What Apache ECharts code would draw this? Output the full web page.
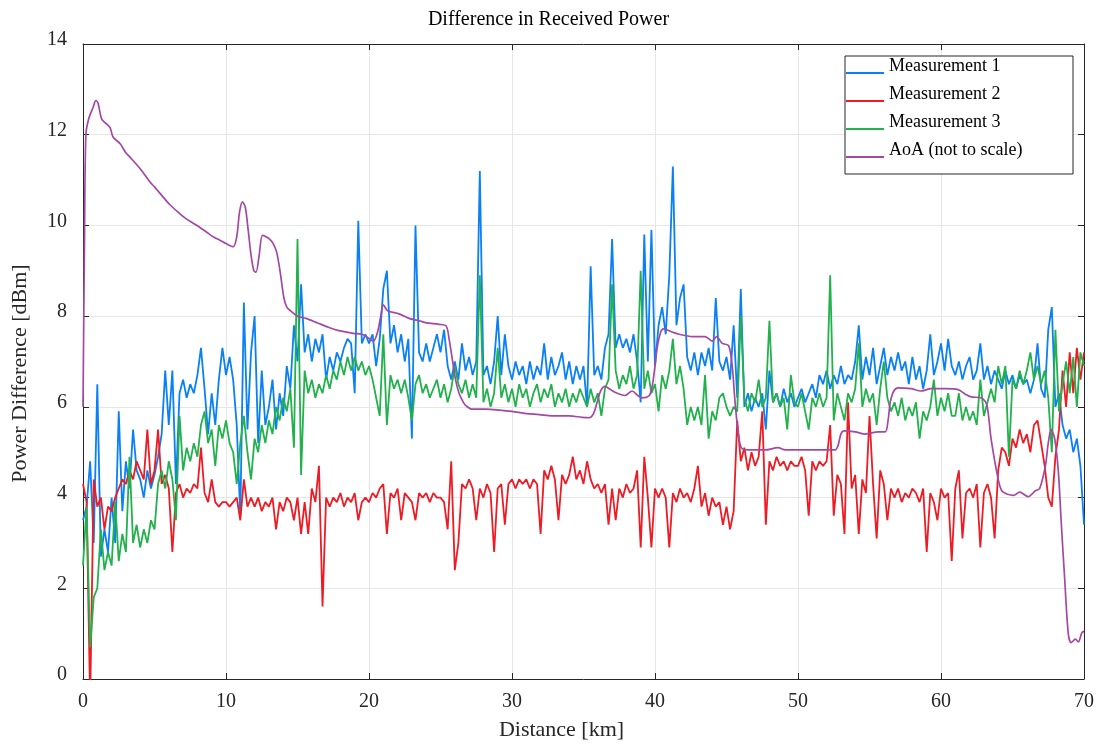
<!DOCTYPE html>
<html>
<head>
<meta charset="utf-8">
<title>Difference in Received Power</title>
<script src="https://cdn.jsdelivr.net/npm/echarts@6/dist/echarts.min.js"></script>
<style>
  html, body { margin: 0; padding: 0; background: #ffffff; }
  #chart { width: 1097px; height: 746px; }
</style>
</head>
<body>
<div id="chart"></div>
<script>
// Samples are taken every 0.25 km along the route (one row per km).
const STEP_KM = 0.25;

const measurement1 = [
  3.5, 3.8, 4.8, 3.0,   6.5, 2.7, 3.3, 2.8,   4.0, 3.0, 5.9, 3.7,   4.8, 4.2, 5.5, 4.6,
  4.4, 4.0, 4.6, 4.2,   4.5, 4.9, 5.4, 6.8,   5.6, 6.8, 4.3, 6.3,   6.6, 6.2, 6.5, 6.3,
  6.7, 7.3, 6.4, 5.4,   6.3, 5.6, 6.6, 7.3,   6.7, 7.1, 6.6, 5.6,   3.6, 8.3, 5.5, 7.2,
  8.0, 5.2, 6.8, 5.6,   6.0, 6.6, 5.5, 6.3,   5.8, 6.9, 6.4, 7.8,   7.0, 8.7, 7.2, 7.6,
  7.0, 7.5, 7.2, 7.6,   6.6, 7.1, 6.8, 7.2,   7.0, 7.3, 7.5, 7.4,   6.3, 10.1, 7.4, 7.6,
  7.4, 7.6, 6.9, 7.5,   8.6, 9.0, 7.4, 7.8,   7.2, 7.6, 7.0, 7.5,   5.3, 10.0, 7.2, 7.0,
  7.4, 7.0, 7.3, 7.6,   7.2, 7.7, 6.9, 6.6,   7.0, 6.6, 7.4, 6.8,   7.1, 6.7, 7.0, 11.2,
  6.7, 6.9, 6.5, 7.0,   8.0, 6.7, 7.6, 6.9,   6.6, 7.0, 6.7, 6.9,   6.5, 7.0, 6.6, 6.9,
  6.7, 7.4, 6.6, 7.1,   6.7, 6.9, 7.2, 6.6,   7.0, 6.5, 6.9, 6.6,   6.9, 6.0, 9.1, 6.7,
  6.9, 6.6, 7.3, 7.6,   9.7, 7.3, 7.6, 7.3,   7.5, 7.2, 7.6, 7.0,   6.1, 9.8, 7.0, 9.9,
  6.9, 7.8, 8.2, 7.6,   8.9, 11.3, 7.8, 8.4,  8.7, 7.1, 6.8, 7.2,   6.7, 7.2, 6.9, 7.3,
  6.8, 8.4, 7.0, 6.8,   7.1, 6.6, 7.8, 6.2,   8.6, 6.0, 6.3, 5.9,   6.2, 6.0, 6.3, 5.5,
  6.8, 6.1, 6.3, 6.0,   6.4, 6.1, 6.3, 6.0,   6.2, 6.4, 6.1, 6.3,   6.5, 6.2, 6.7, 6.5,
  6.8, 6.4, 6.7, 6.5,   6.9, 6.5, 6.7, 6.6,   7.0, 7.8, 6.6, 7.1,   6.7, 7.3, 6.5, 6.9,
  7.3, 6.7, 7.1, 6.8,   7.2, 6.8, 7.0, 6.5,   7.1, 6.6, 6.9, 6.4,   6.8, 7.6, 6.7, 7.0,
  7.4, 6.8, 7.5, 6.9,   6.7, 7.0, 6.6, 6.9,   7.1, 6.6, 6.8, 7.4,   6.6, 6.9, 6.5, 6.8,
  6.6, 6.4, 6.8, 6.5,   6.7, 6.4, 6.7, 6.5,   6.6, 6.3, 6.6, 7.4,   6.4, 6.2, 7.7, 8.2,
  6.0, 6.3, 5.6, 5.3,   5.5, 5.0, 5.3, 4.7,
  3.4
];

const measurement2 = [
  4.3, 3.9, -0.5, 4.4,  3.8, 4.0, 3.3, 3.8,   3.7, 4.0, 4.2, 4.4,   4.3, 4.6, 4.4, 4.8,
  4.6, 4.4, 5.5, 4.3,   4.6, 5.5, 4.3, 4.5,   4.2, 2.8, 4.1, 4.3,   4.0, 4.2, 4.1, 4.3,
  4.2, 5.1, 4.1, 3.9,   4.4, 3.9, 3.8, 3.9,   3.9, 3.8, 3.9, 4.0,   3.5, 4.4, 3.8, 4.0,
  3.8, 4.0, 3.7, 3.9,   3.8, 4.0, 3.3, 3.9,   3.7, 4.0, 3.9, 3.5,   4.0, 3.2, 3.9, 3.2,
  4.2, 3.9, 4.7, 1.6,   4.0, 3.8, 4.0, 3.9,   4.1, 3.8, 4.0, 3.9,   4.1, 3.5, 3.9, 4.0,
  3.9, 4.1, 4.0, 4.2,   4.3, 3.2, 4.1, 4.0,   4.2, 3.5, 4.1, 4.0,   3.9, 3.5, 4.1, 4.0,
  4.1, 3.9, 4.1, 4.0,   4.0, 3.9, 3.3, 4.8,   2.4, 3.0, 4.3, 4.2,   4.4, 4.2, 3.5, 4.2,
  4.0, 4.3, 4.1, 2.8,   4.2, 4.3, 3.4, 4.3,   4.4, 4.2, 4.4, 4.3,   4.4, 4.2, 4.4, 4.3,
  3.2, 4.6, 4.4, 4.7,   4.4, 3.5, 4.5, 4.3,   4.5, 4.9, 4.4, 4.6,   4.3, 4.8, 4.4, 4.2,
  4.3, 4.1, 4.3, 3.4,   4.2, 3.5, 4.2, 4.0,   4.3, 4.1, 4.2, 4.6,   2.9, 4.9, 4.0, 2.9,
  4.2, 4.0, 4.2, 4.0,   2.9, 4.1, 3.9, 4.2,   4.0, 4.1, 3.9, 4.2,   4.7, 3.8, 4.1, 3.6,
  4.0, 3.8, 3.9, 3.4,   3.8, 3.3, 3.7, 5.7,   4.8, 5.1, 4.6, 5.0,   4.7, 4.9, 5.9, 3.4,
  4.8, 4.6, 4.9, 4.7,   4.8, 4.6, 4.8, 4.7,   4.7, 4.9, 4.6, 3.6,   4.8, 4.6, 4.8, 4.7,
  4.8, 5.6, 3.6, 4.5,   4.3, 3.2, 6.1, 4.2,   4.5, 3.2, 4.4, 4.1,   5.8, 4.3, 3.1, 4.6,
  4.3, 3.5, 4.2, 4.0,   4.2, 3.9, 4.1, 4.0,   4.2, 4.1, 3.9, 4.2,   2.8, 4.1, 3.9, 3.5,
  4.2, 4.0, 4.1, 2.6,   4.2, 4.6, 3.1, 4.1,   4.2, 4.0, 4.3, 2.9,   4.1, 4.3, 4.0, 3.1,
  4.6, 5.1, 5.0, 4.7,   5.3, 5.1, 5.5, 5.2,   5.4, 5.0, 5.6, 5.7,   5.2, 4.7, 4.0, 3.8,
  4.9, 5.5, 6.8, 6.0,   7.2, 6.3, 7.3, 6.6,
  7.2
];

const measurement3 = [
  2.5, 3.8, 0.7, 1.8,   2.0, 3.3, 2.4, 2.8,   2.5, 3.9, 2.6, 3.2,   2.8, 4.9, 3.0, 3.4,
  2.9, 3.3, 3.0, 3.5,   3.3, 4.3, 4.6, 4.2,   4.8, 4.4, 3.5, 5.8,   4.6, 5.1, 4.8, 5.2,
  4.9, 5.6, 5.9, 5.2,   5.5, 4.7, 5.6, 5.3,   5.7, 5.2, 5.0, 4.3,   5.2, 5.8, 5.0, 4.4,
  5.3, 5.0, 5.6, 5.2,   5.7, 5.4, 6.0, 5.7,   6.2, 5.9, 6.4, 5.1,   9.7, 4.5, 6.8, 6.3,
  6.6, 6.2, 6.5, 6.3,   6.7, 6.4, 6.8, 6.6,   7.0, 6.7, 7.1, 6.8,   7.1, 6.8, 7.0, 6.7,
  6.9, 6.6, 6.2, 5.8,   7.6, 5.6, 6.7, 6.4,   6.6, 6.3, 6.6, 6.2,   5.7, 6.5, 6.7, 6.3,
  6.5, 6.2, 6.4, 6.6,   6.2, 6.5, 6.1, 6.4,   6.9, 6.5, 6.3, 6.6,   6.2, 6.5, 6.2, 8.9,
  6.1, 6.4, 6.0, 6.3,   7.3, 6.2, 6.5, 6.1,   6.4, 6.0, 6.5, 6.2,   6.4, 6.0, 6.3, 6.5,
  6.1, 6.4, 6.2, 6.5,   6.0, 6.3, 6.1, 6.4,   6.0, 6.3, 6.1, 6.4,   6.2, 6.0, 6.4, 6.1,
  6.3, 5.8, 6.4, 6.6,   8.7, 6.8, 6.4, 6.7,   6.5, 6.9, 6.4, 6.7,   9.0, 6.4, 6.8, 6.3,
  6.5, 5.9, 6.7, 6.4,   6.8, 7.5, 6.5, 6.9,   6.4, 5.6, 6.0, 5.7,   6.0, 5.6, 6.7, 5.3,
  5.9, 5.7, 6.2, 6.3,   6.0, 5.8, 6.0, 5.9,   8.0, 6.2, 5.9, 6.3,   6.1, 6.6, 6.0, 6.2,
  7.9, 6.1, 6.3, 6.0,   6.2, 5.5, 6.7, 6.1,   6.0, 6.3, 5.9, 5.5,   6.2, 6.0, 6.3, 6.0,
  6.2, 8.9, 5.7, 6.3,   6.0, 5.7, 6.3, 6.1,   6.4, 7.4, 6.0, 6.4,   6.1, 6.3, 5.6, 6.4,
  7.0, 6.2, 5.9, 6.1,   5.8, 6.2, 5.7, 6.0,   5.8, 6.1, 5.3, 5.9,   5.7, 6.0, 6.6, 5.8,
  6.2, 5.9, 6.3, 5.8,   5.8, 6.3, 5.7, 6.0,   5.7, 5.9, 5.6, 6.6,   5.8, 6.1, 6.4, 6.1,
  6.9, 6.5, 6.9, 4.9,   6.6, 6.4, 6.8, 6.5,   6.8, 7.2, 6.6, 6.9,   6.5, 6.8, 6.2, 5.0,
  7.7, 5.9, 6.5, 7.0,   6.3, 7.1, 6.0, 7.2,
  6.9
];

// Angle of arrival trace (drawn on the same axis, not to scale)
const aoaKm = [
  0, 0.1, 0.2, 0.4, 0.7, 0.9, 1.05, 1.3, 1.6, 1.9, 2.1, 2.6, 3.0, 3.3, 4.0, 4.7, 5.0, 5.4,
  6.1, 6.8, 7.2, 7.7, 8.2, 8.65, 9.1, 9.6, 10.0, 10.5, 10.75, 10.95, 11.15, 11.35, 11.55,
  11.75, 11.95, 12.1, 12.3, 12.55, 12.8, 13.05, 13.3, 13.55, 13.8, 14.05, 14.25, 14.5,
  15.0, 15.6, 16.4, 17.2, 17.9, 18.9, 19.5, 19.8, 20.3, 20.6, 20.85, 21.0, 21.3, 22.1,
  22.8, 23.5, 24.0, 24.9, 25.4, 25.6, 25.85, 26.05, 26.3, 26.6, 26.8, 27.2, 28.2, 29.1,
  30.0, 31.0, 31.9, 32.8, 34.0, 34.9, 35.4, 35.7, 35.95, 36.2, 36.5, 36.8, 37.2, 37.9,
  38.4, 38.8, 39.1, 39.6, 39.8, 40.0, 40.15, 40.4, 40.6, 41.2, 41.7, 42.6, 43.5, 44.0,
  44.3, 44.7, 45.15, 45.4, 45.6, 45.85, 46.1, 46.8, 47.7, 48.6, 49.1, 50.0, 51.0, 52.0,
  52.6, 52.8, 53.0, 53.2, 54.0, 54.7, 55.6, 56.1, 56.3, 56.45, 56.7, 57.0, 57.9, 58.6,
  59.3, 60.3, 61.2, 61.7, 62.1, 62.8, 63.2, 63.5, 64.0, 64.25, 64.6, 65.1, 65.5, 66.1,
  66.6, 66.9, 67.3, 67.5, 67.7, 67.95, 68.2, 68.4, 68.65, 68.9, 69.1, 69.4, 69.6, 69.85,
  70.0
];
const aoaVal = [
  6.0, 9.5, 12.0, 12.35, 12.6, 12.75, 12.7, 12.35, 12.25, 12.15, 11.95, 11.8, 11.6, 11.5,
  11.25, 10.95, 10.85, 10.7, 10.45, 10.25, 10.15, 10.05, 9.95, 9.85, 9.75, 9.67, 9.6, 9.53,
  9.75, 10.3, 10.52, 10.4, 9.9, 9.35, 9.0, 8.97, 9.3, 9.78, 9.75, 9.7, 9.6, 9.4, 8.95,
  8.4, 8.2, 8.12, 8.0, 7.95, 7.85, 7.75, 7.68, 7.62, 7.6, 7.55, 7.45, 7.65, 8.05, 8.25,
  8.12, 8.05, 7.95, 7.9, 7.85, 7.82, 7.78, 7.5, 7.0, 6.6, 6.3, 6.1, 6.02, 5.95, 5.95,
  5.93, 5.9, 5.85, 5.83, 5.8, 5.8, 5.77, 5.76, 5.85, 6.1, 6.35, 6.45, 6.4, 6.32, 6.25,
  6.35, 6.25, 6.2, 6.25, 6.45, 6.9, 7.3, 7.65, 7.72, 7.65, 7.6, 7.55, 7.55, 7.45, 7.55,
  7.4, 7.35, 6.9, 6.1, 5.35, 5.08, 5.05, 5.05, 5.1, 5.05, 5.05, 5.05, 5.05, 5.05, 5.15,
  5.4, 5.47, 5.45, 5.4, 5.45, 5.45, 5.7, 6.1, 6.35, 6.42, 6.4, 6.35, 6.4, 6.4, 6.38,
  6.28, 6.22, 6.2, 6.05, 5.3, 4.4, 4.15, 4.08, 4.05, 4.12, 4.02, 4.15, 4.2, 4.7, 5.2,
  5.5, 5.3, 4.6, 3.5, 2.2, 1.0, 0.8, 0.88, 0.82, 1.02, 1.05
];

const xTicks = { min: 0, max: 70, interval: 10 };
const yTicks = { min: 0, max: 14, interval: 2 };

const seriesNames = ['Measurement 1', 'Measurement 2', 'Measurement 3', 'AoA (not to scale)'];
const seriesColors = ['#0A80F5', '#ED1C24', '#22B14C', '#A349A4'];

const FONT = '"Liberation Serif", "Times New Roman", serif';
const AXIS_COLOR = '#262626';

// Legend sample: a short bar sitting near the text baseline
const LEGEND_ICON = 'path://M0,0L0.1,0L0.1,0.1Z M0,15L38,15L38,17L0,17Z M0,18L0.1,18L0.1,17.9Z';

const withDistance = (vals) => vals.map((v, i) => [+(i * STEP_KM).toFixed(2), v]);
const aoaPoints = aoaKm.map((d, i) => [d, aoaVal[i]]);

const seriesData = [
  withDistance(measurement1),
  withDistance(measurement2),
  withDistance(measurement3),
  aoaPoints
];

const boxAxis = (extra) => Object.assign({
  type: 'value',
  axisLine: { show: true, onZero: false, lineStyle: { color: AXIS_COLOR, width: 1 } },
  axisTick: { show: true, inside: true, length: 6, lineStyle: { color: AXIS_COLOR } },
  splitLine: { show: false },
  axisLabel: { show: false }
}, extra);

const chart = echarts.init(document.getElementById('chart'), null, { renderer: 'canvas' });

chart.setOption({
  animation: false,
  backgroundColor: '#ffffff',
  title: {
    text: 'Difference in Received Power',
    left: 'center',
    top: 5,
    textStyle: { fontFamily: FONT, fontSize: 20, fontWeight: 'normal', color: '#000000' }
  },
  legend: {
    data: seriesNames,
    orient: 'vertical',
    left: 845,
    top: 56,
    padding: [1, 6, 15, 1],
    itemGap: 10,
    itemWidth: 38,
    itemHeight: 18,
    icon: LEGEND_ICON,
    symbolKeepAspect: false,
    backgroundColor: '#ffffff',
    borderColor: AXIS_COLOR,
    borderWidth: 1,
    borderRadius: 0,
    itemStyle: { borderWidth: 0 },
    textStyle: { fontFamily: FONT, fontSize: 18, color: '#000000', lineHeight: 18, width: 178 }
  },
  grid: { left: 83, right: 11, top: 44, bottom: 65, containLabel: false },
  xAxis: [
    boxAxis(Object.assign({}, xTicks, {
      position: 'bottom',
      name: 'Distance [km]',
      nameLocation: 'middle',
      nameGap: 40,
      nameTextStyle: { fontFamily: FONT, fontSize: 22, color: AXIS_COLOR, padding: [0, 44, 0, 0] },
      axisLabel: { show: true, fontFamily: FONT, fontSize: 20, color: AXIS_COLOR, margin: 13 },
      splitLine: { show: true, lineStyle: { color: '#e6e6e6', width: 1 } }
    })),
    boxAxis(Object.assign({}, xTicks, { position: 'top' }))
  ],
  yAxis: [
    boxAxis(Object.assign({}, yTicks, {
      position: 'left',
      name: 'Power Difference [dBm]',
      nameLocation: 'middle',
      nameGap: 52,
      nameTextStyle: { fontFamily: FONT, fontSize: 22, color: AXIS_COLOR, padding: [0, 24, 0, 0] },
      axisLabel: {
        show: true, fontFamily: FONT, fontSize: 20, color: AXIS_COLOR, margin: 16,
        verticalAlign: 'bottom', lineHeight: 8
      },
      splitLine: { show: true, lineStyle: { color: '#e6e6e6', width: 1 } }
    })),
    boxAxis(Object.assign({}, yTicks, { position: 'right' }))
  ],
  series: seriesNames.map((name, k) => ({
    name: name,
    type: 'line',
    xAxisIndex: 0,
    yAxisIndex: 0,
    data: seriesData[k],
    showSymbol: false,
    symbol: 'none',
    clip: true,
    smooth: k === 3 ? 0.3 : false,
    color: seriesColors[k],
    lineStyle: { color: seriesColors[k], width: k === 3 ? 1.7 : 1.8 },
    z: 2 + k
  }))
});
</script>
</body>
</html>
